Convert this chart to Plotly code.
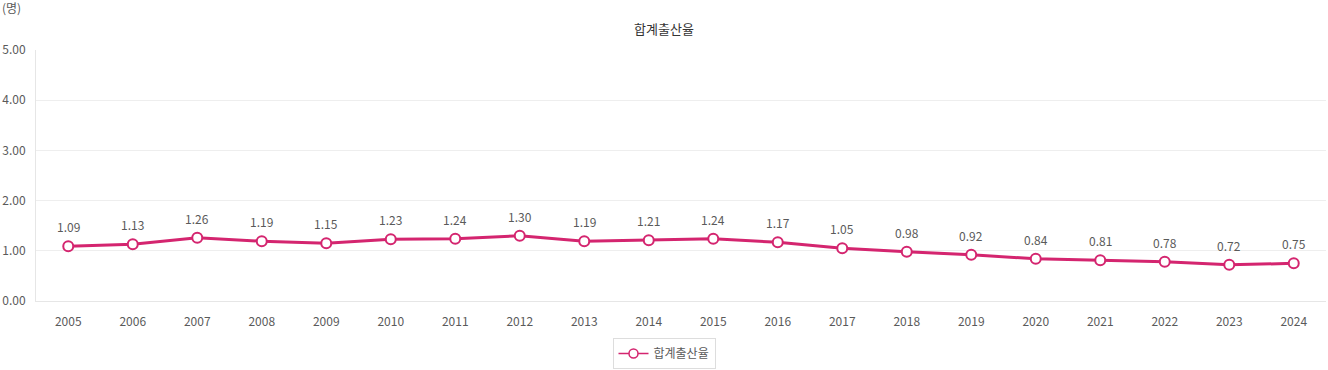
import plotly.graph_objects as go

years = [str(y) for y in range(2005, 2025)]
tfr = [1.09, 1.13, 1.26, 1.19, 1.15, 1.23, 1.24, 1.30, 1.19, 1.21,
       1.24, 1.17, 1.05, 0.98, 0.92, 0.84, 0.81, 0.78, 0.72, 0.75]
series_name = "합계출산율"
y_ticks = [0, 1, 2, 3, 4, 5]
y_tick_labels = ["0.00", "1.00", "2.00", "3.00", "4.00", "5.00"]

FONT = "Noto Sans CJK KR, Noto Sans, sans-serif"
COLOR = "#d4256f"
TXT = "#5a5a5a"

fig = go.Figure()
fig.add_trace(go.Scatter(
    x=years, y=tfr, name=series_name, mode="lines+markers", showlegend=False,
    line=dict(color=COLOR, width=3),
    marker=dict(symbol="circle", size=10, color="white", line=dict(color=COLOR, width=2)),
    cliponaxis=False, hoverinfo="skip",
))
# legend entry (smaller symbol, as in the reference)
fig.add_trace(go.Scatter(
    x=[None], y=[None], name=series_name, mode="lines+markers",
    line=dict(color=COLOR, width=1.5),
    marker=dict(symbol="circle", size=9, color="white", line=dict(color=COLOR, width=1.5)),
))

annotations = [dict(x=i, y=v, xref="x", yref="y", text=f"{v:.2f}", showarrow=False,
                    yanchor="bottom", yshift=9, font=dict(size=12, color=TXT, family=FONT))
               for i, v in enumerate(tfr)]
annotations.append(dict(text="(명)", xref="paper", yref="paper", x=0, xanchor="left",
                        y=1 + 42/251, yanchor="middle", showarrow=False,
                        font=dict(size=12, color=TXT), xshift=-36))

fig.update_layout(
    width=1328, height=370,
    margin=dict(l=36, r=2, t=50, b=69, autoexpand=False),
    paper_bgcolor="white", plot_bgcolor="white",
    font=dict(family=FONT, size=12, color=TXT),
    title=dict(text=series_name, x=0.5, xanchor="center", y=1 - 29/370, yanchor="middle",
               font=dict(size=13, color="#333333", family=FONT)),
    showlegend=True,
    legend=dict(orientation="h", xref="container", x=0.5, xanchor="center", y=-37/251, yanchor="top",
                bordercolor="#dddddd", borderwidth=1, font=dict(size=12, color=TXT),
                itemwidth=30),
    xaxis=dict(type="category", range=[-0.5, 19.5], showgrid=False, showline=True,
               linecolor="#e6e6e6", linewidth=1, ticks="", tickfont=dict(size=12, color=TXT),
               ticklabelstandoff=10,
               fixedrange=True, zeroline=False, automargin=False),
    yaxis=dict(range=[0, 5], tickvals=y_ticks, ticktext=y_tick_labels, showgrid=True,
               gridcolor="#eeeeee", gridwidth=1, showline=True, linecolor="#e6e6e6", linewidth=1,
               zeroline=False, ticks="", tickfont=dict(size=12, color=TXT), ticklabelstandoff=7,
               fixedrange=True, automargin=False),
    annotations=annotations,
)

fig.write_html("out.html", config={"displayModeBar": False},
               post_script="document.body.style.margin='0';")
